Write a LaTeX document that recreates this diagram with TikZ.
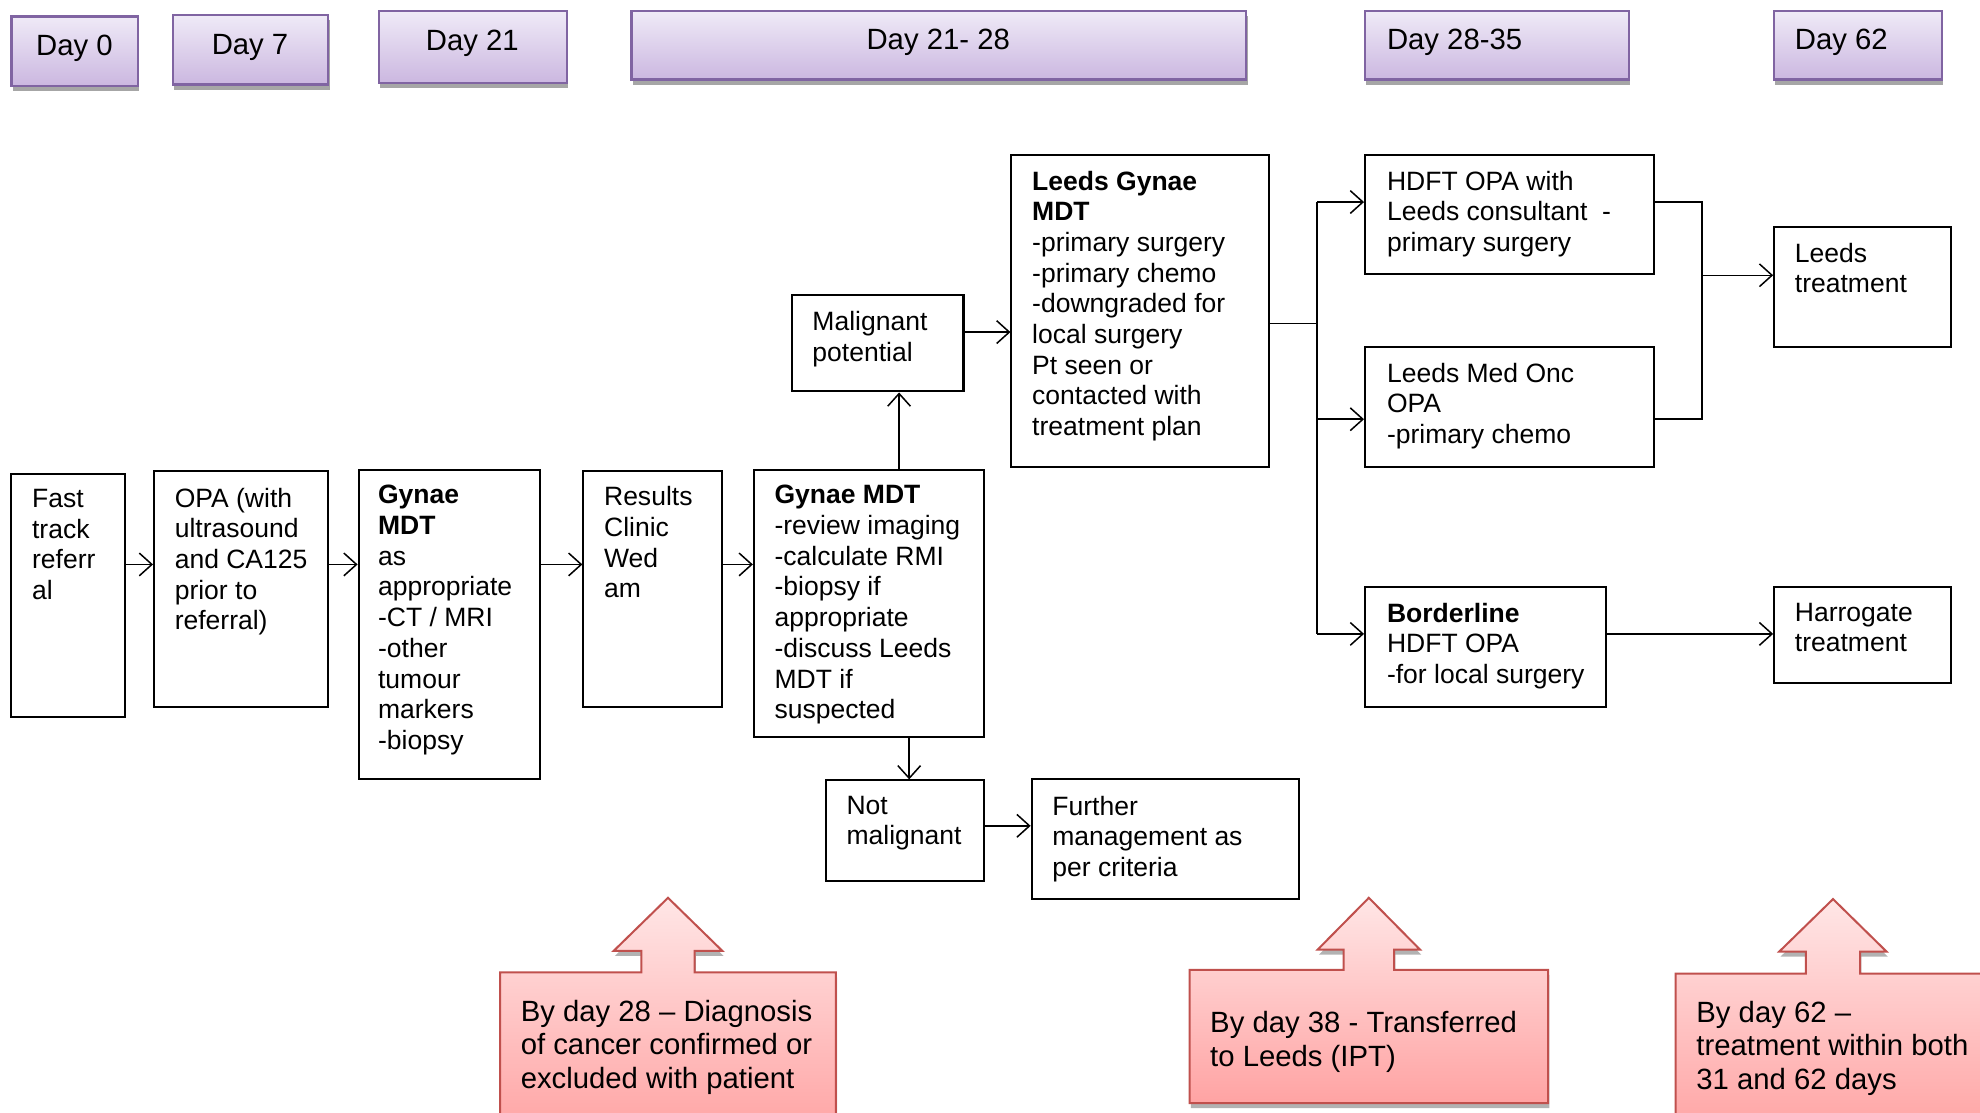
\documentclass[tikz,border=0pt]{standalone}
\usepackage{fontspec}
\setmainfont{Liberation Sans}
\usetikzlibrary{arrows.meta,shadows,fit}
\definecolor{dayfillT}{HTML}{EFEAF7}
\definecolor{dayfillB}{HTML}{CBB7E0}
\definecolor{dayline}{HTML}{8064A2}
\definecolor{calT}{HTML}{FFE6E6}
\definecolor{calB}{HTML}{FFA3A3}
\definecolor{calline}{HTML}{C0504D}
\begin{document}
\begin{tikzpicture}[x=0.5pt,y=-0.5pt,
  box/.style={draw=black, line width=0.8pt, fill=white, inner sep=0pt},
  daybox/.style={draw=dayline, line width=0.9pt, top color=dayfillT, bottom color=dayfillB, inner sep=0pt,
    drop shadow={shadow xshift=0.5pt, shadow yshift=-2pt, opacity=0.35, fill=black}},
  txt/.style={anchor=north west, inner sep=0pt, align=left, font=\fontsize{10.5}{12.15}\selectfont},
  daytxt/.style={inner sep=0pt, font=\fontsize{11.6}{13.3}\selectfont},
  caltxt/.style={anchor=north west, inner sep=0pt, align=left, font=\fontsize{11.6}{13.25}\selectfont},
  callout/.style={draw=calline, line width=0.8pt, top color=calT, bottom color=calB,
    drop shadow={shadow xshift=0.5pt, shadow yshift=-2pt, opacity=0.3, fill=black}},
  conn/.style={line width=0.6pt, -{Straight Barb[length=5pt,width=9pt]}},
  plain/.style={line width=0.6pt},
]
\useasboundingbox[fill=white] (0,0) rectangle (1568,881);

% ---- Day header boxes
\node[daybox, fit={(9,13)(109,68)}] (d0) {};
\node[daytxt, anchor=base] (d0t) at (59,44.3) {Day 0};
\node[daybox, fit={(137,12)(260,67)}] (d7) {};
\node[daytxt, anchor=base] (d7t) at (198,43.3) {Day 7};
\node[daybox, fit={(300,9)(449,66)}] (d21) {};
\node[daytxt, anchor=base] (d21t) at (374,40.3) {Day 21};
\node[daybox, fit={(500,9)(987,63)}] (d2128) {};
\node[daytxt, anchor=base] (d2128t) at (743,39.3) {Day 21- 28};
\node[daybox, fit={(1081,9)(1290,63)}] (d2835) {};
\node[daytxt, anchor=base west] (d2835t) at (1098,39.3) {Day 28-35};
\node[daybox, fit={(1405,9)(1538,63)}] (d62) {};
\node[daytxt, anchor=base west] (d62t) at (1421,39.3) {Day 62};

% ---- Process boxes
\node[box, fit={(9,375)(99,568)}] (fast) {};
\node[txt] (fastt) at (25,387) {Fast\\track\\referr\\al};
\node[box, fit={(122,373)(260,560)}] (opa) {};
\node[txt] (opat) at (138,386) {OPA (with\\ultrasound\\and CA125\\prior to\\referral)};
\node[box, fit={(284,372)(428,617)}] (gm1) {};
\node[txt] (gm1t) at (299,384) {\textbf{Gynae}\\\textbf{MDT}\\as\\appropriate\\-CT / MRI\\-other\\tumour\\markers\\-biopsy};
\node[box, fit={(462,373)(572,560)}] (res) {};
\node[txt] (rest) at (478,385) {Results\\Clinic\\Wed\\am};
\node[box, fit={(597,372)(779,584)}] (gm2) {};
\node[txt] (gm2t) at (613,384) {\textbf{Gynae MDT}\\-review imaging\\-calculate RMI\\-biopsy if\\appropriate\\-discuss Leeds\\MDT if\\suspected};
\node[box, fit={(627,234)(763,310)}] (malig) {};
\node[txt] (maligt) at (643,246) {Malignant\\potential};
\node[box, fit={(801,123)(1005,370)}] (lgm) {};
\node[txt] (lgmt) at (817,135) {\textbf{Leeds Gynae}\\\textbf{MDT}\\-primary surgery\\-primary chemo\\-downgraded for\\local surgery\\Pt seen or\\contacted with\\treatment plan};
\node[box, fit={(654,618)(779,698)}] (notm) {};
\node[txt] (notmt) at (670,630) {Not\\malignant};
\node[box, fit={(817,617)(1029,712)}] (further) {};
\node[txt] (furthert) at (833,630) {Further\\management as\\per criteria};
\node[box, fit={(1081,123)(1310,217)}] (hdft) {};
\node[txt] (hdftt) at (1098,135) {HDFT OPA with\\Leeds consultant\ \ -\\primary surgery};
\node[box, fit={(1081,275)(1310,370)}] (medonc) {};
\node[txt] (medonct) at (1098,287) {Leeds Med Onc\\OPA\\-primary chemo};
\node[box, fit={(1081,465)(1272,560)}] (border) {};
\node[txt] (bordert) at (1098,477) {\textbf{Borderline}\\HDFT OPA\\-for local surgery};
\node[box, fit={(1405,180)(1545,275)}] (leedst) {};
\node[txt] (leedstt) at (1421,192) {Leeds\\treatment};
\node[box, fit={(1405,465)(1545,541)}] (harr) {};
\node[txt] (harrt) at (1421,477) {Harrogate\\treatment};

% ---- Connectors
\coordinate (row) at (0,447);
\draw[conn] (fast.east |- row) -- (opa.west |- row);
\draw[conn] (opa.east |- row) -- (gm1.west |- row);
\draw[conn] (gm1.east |- row) -- (res.west |- row);
\draw[conn] (res.east |- row) -- (gm2.west |- row);
\coordinate (upx) at (712,0);
\draw[conn] (upx |- gm2.north) -- (upx |- malig.south);
\coordinate (dnx) at (720,0);
\draw[conn] (dnx |- gm2.south) -- (dnx |- notm.north);
\coordinate (mrow) at (0,263);
\draw[conn] (malig.east |- mrow) -- (lgm.west |- mrow);
\coordinate (nrow) at (0,654);
\draw[conn] (notm.east |- nrow) -- (further.west |- nrow);
\coordinate (split) at (1043,256);
\coordinate (s1) at (1043,160);
\coordinate (s2) at (1043,332);
\coordinate (s3) at (1043,502);
\draw[plain] (lgm.east |- split) -- (split);
\draw[plain] (s1) -- (s3);
\draw[conn] (s1) -- (s1 -| hdft.west);
\draw[conn] (s2) -- (s2 -| medonc.west);
\draw[conn] (s3) -- (s3 -| border.west);
\coordinate (m1) at (1348,160);
\coordinate (m2) at (1348,332);
\coordinate (m3) at (1348,218);
\draw[plain] (m1 -| hdft.east) -- (m1) -- (m2) -- (m2 -| medonc.east);
\draw[conn] (m3) -- (m3 -| leedst.west);
\draw[conn] (border.east |- s3) -- (s3 -| harr.west);

% ---- Callouts
\path[callout] (396,900) -- (396,770) -- (508,770) -- (508,753) -- (486,753) -- (529,711)
  -- (572,753) -- (550,753) -- (550,770) -- (662,770) -- (662,900) -- cycle;
\node[caltxt] (c1t) at (412,791.5) {By day 28 {--} Diagnosis\\of cancer confirmed or\\excluded with patient};
\path[callout] (942,873.6) -- (942,768) -- (1064,768) -- (1064,752) -- (1043.5,752) -- (1084,711)
  -- (1124.5,752) -- (1104,752) -- (1104,768) -- (1226,768) -- (1226,873.6) -- cycle;
\node[caltxt] (c2t) at (958,800.5) {By day 38 - Transferred\\to Leeds (IPT)};
\path[callout] (1327,900) -- (1327,771) -- (1430,771) -- (1430,753.6) -- (1409,753.6) -- (1451.6,712)
  -- (1494,753.6) -- (1473,753.6) -- (1473,771) -- (1600,771) -- (1600,900) -- cycle;
\node[caltxt] (c3t) at (1343,792.5) {By day 62 {--}\\treatment within both\\31 and 62 days};
\end{tikzpicture}
\end{document}
